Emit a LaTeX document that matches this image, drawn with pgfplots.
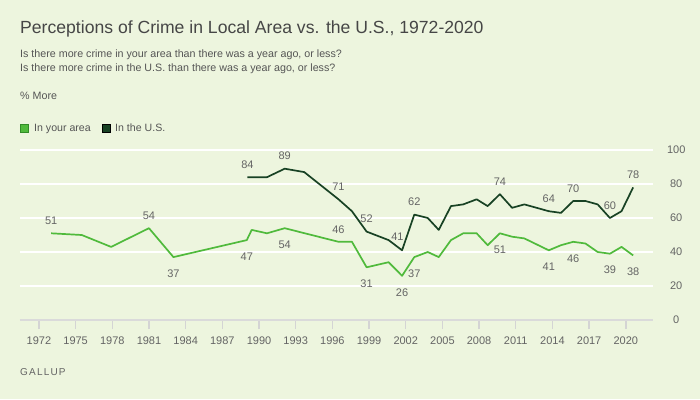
\documentclass[border=0pt]{standalone}
\usepackage{fontspec}
\setmainfont{Liberation Sans}
\usepackage{pgfplots}
\usepackage{pgfplotstable}
\pgfplotsset{compat=1.18}
\definecolor{bg}{RGB}{237,245,222}
\definecolor{localgreen}{RGB}{80,186,60}
\definecolor{localdark}{RGB}{50,140,40}
\definecolor{usgreen}{RGB}{24,66,36}
\definecolor{titlegray}{RGB}{70,70,70}
\definecolor{subgray}{RGB}{85,85,85}
\definecolor{labgray}{RGB}{100,100,100}
\definecolor{basegray}{RGB}{218,218,218}
\definecolor{tickgray}{RGB}{212,212,212}

\pgfplotstableread{
year val
1973.0 51
1975.5 50
1977.9 43
1981.0 54
1983.0 37
1989.0 47
1989.4 53
1990.65 51
1992.1 54
1996.5 46
1997.6 46
1998.8 31
2000.6 34
2001.7 26
2002.7 37
2003.8 40
2004.7 37
2005.7 47
2006.7 51
2007.8 51
2008.7 44
2009.7 51
2010.7 49
2011.7 48
2013.7 41
2014.7 44
2015.7 46
2016.7 45
2017.7 40
2018.7 39
2019.65 43
2020.6 38
}\localtab

\pgfplotstableread{
year val
1989.05 84
1990.65 84
1992.1 89
1993.7 87
1996.5 71
1997.6 64
1998.8 52
2000.6 47
2001.7 41
2002.7 62
2003.8 60
2004.7 53
2005.7 67
2006.7 68
2007.8 71
2008.7 67
2009.7 74
2010.7 66
2011.7 68
2013.7 64
2014.7 63
2015.7 70
2016.7 70
2017.7 68
2018.7 60
2019.65 64
2020.6 78
}\ustab

% labels above the line
\pgfplotstableread{
year val lab
1973.0 51 51
1981.0 54 54
1996.5 46 46
1989.05 84 84
1992.1 89 89
1996.5 71 71
1998.8 52 52
2002.7 62 62
2009.7 74 74
2013.7 64 64
2015.7 70 70
2018.7 60 60
2020.6 78 78
}\abovetab

% labels below the line
\pgfplotstableread{
year val lab
1983.0 37 37
1989.0 47 47
1992.1 54 54
1998.8 31 31
2001.7 26 26
2002.7 37 37
2009.7 51 51
2013.7 41 41
2015.7 46 46
2018.7 39 39
2020.6 38 38
}\belowtab

\pgfplotstableread{
year val lab
2001.7 41 41
}\lefttab

\begin{document}
\begin{tikzpicture}[x=1pt,y=1pt]
\fill[bg] (0,0) rectangle (700,399);
\useasboundingbox (0,0) rectangle (700,399);
\node[anchor=base west, inner sep=0, text=titlegray, font=\fontsize{17.6}{20}\selectfont] at (20,365.7) {Perceptions of Crime in Local Area vs. the U.S., 1972-2020};
\node[anchor=base west, inner sep=0, text=subgray, font=\fontsize{10.7}{12}\selectfont] at (20,341.7) {Is there more crime in your area than there was a year ago, or less?};
\node[anchor=base west, inner sep=0, text=subgray, font=\fontsize{10.7}{12}\selectfont] at (20,327.3) {Is there more crime in the U.S. than there was a year ago, or less?};
\node[anchor=base west, inner sep=0, text=subgray, font=\fontsize{10.7}{12}\selectfont] at (20,299.7) {\% More};
\filldraw[fill=localgreen, draw=localdark, line width=0.8pt] (20.4,266.7) rectangle (28.6,274.6);
\node[anchor=base west, inner sep=0, text=subgray, font=\fontsize{10.6}{12}\selectfont] at (34,267) {In your area};
\filldraw[fill=usgreen, draw=black, line width=0.8pt] (102.1,266.7) rectangle (110.3,274.6);
\node[anchor=base west, inner sep=0, text=subgray, font=\fontsize{10.6}{12}\selectfont] at (115,267) {In the U.S.};
\node[anchor=base west, inner sep=0, text=labgray, font=\fontsize{10}{12}\selectfont\addfontfeature{LetterSpace=12}] at (20,23.3) {GALLUP};

\begin{axis}[
  at={(20pt,79pt)}, anchor=south west,
  scale only axis, width=632.7pt, height=170pt,
  xmin=1970.45, xmax=2022.2, ymin=0, ymax=100,
  axis line style={draw=none},
  xtick={1972,1975,...,2020},
  ytick={20,40,60,80,100},
  extra y ticks={0},
  extra y tick style={grid style={draw=basegray, line width=2pt}},
  ymajorgrids, grid style={draw=white, line width=1.8pt},
  yticklabel pos=right,
  xtick pos=bottom,
  ytick pos=right,
  tick align=outside, major tick length=9pt,
  xtick style={draw=tickgray, line width=1.4pt},
  ytick style={draw=none},
  /pgf/number format/1000 sep={},
  /pgf/number format/assume math mode=true,
  xticklabel style={font=\fontsize{11}{12}\selectfont, text=labgray, yshift=-4pt},
  yticklabel style={font=\fontsize{11}{12}\selectfont, text=labgray, anchor=center, xshift=14.5pt},
  nodes near coords style={font=\fontsize{11}{12}\selectfont, text=labgray, anchor=center},
  clip=false,
]
\addplot[color=localgreen, line width=1.7pt, line join=round] table[x=year, y=val] {\localtab};
\addplot[color=usgreen, line width=1.7pt, line join=round] table[x=year, y=val] {\ustab};
\addplot[draw=none, mark=none, nodes near coords, point meta=explicit symbolic, nodes near coords style={yshift=12.5pt}] table[x=year, y=val, meta=lab] {\abovetab};
\addplot[draw=none, mark=none, nodes near coords, point meta=explicit symbolic, nodes near coords style={yshift=-16.5pt}] table[x=year, y=val, meta=lab] {\belowtab};
\addplot[draw=none, mark=none, nodes near coords, point meta=explicit symbolic, nodes near coords style={yshift=13.5pt, xshift=-4.6pt}] table[x=year, y=val, meta=lab] {\lefttab};
\end{axis}
\end{tikzpicture}
\end{document}
